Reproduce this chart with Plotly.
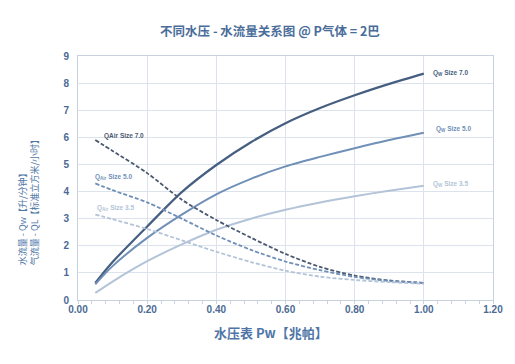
import plotly.graph_objects as go

pw = [0.05, 0.1, 0.2, 0.3, 0.4, 0.5, 0.6, 0.7, 0.8, 0.9, 1.0]

qw_70 = [0.63, 1.40, 2.71, 3.98, 4.98, 5.82, 6.52, 7.08, 7.55, 7.97, 8.35]
qw_50 = [0.58, 1.25, 2.29, 3.15, 3.90, 4.47, 4.93, 5.28, 5.60, 5.90, 6.17]
qw_35 = [0.26, 0.68, 1.43, 2.05, 2.59, 3.00, 3.33, 3.60, 3.83, 4.03, 4.21]

qa_70 = [5.90, 5.50, 4.68, 3.70, 2.95, 2.30, 1.70, 1.22, 0.90, 0.72, 0.63]
qa_50 = [4.30, 4.05, 3.60, 3.00, 2.38, 1.85, 1.42, 1.10, 0.85, 0.70, 0.63]
qa_35 = [3.15, 2.98, 2.62, 2.20, 1.78, 1.40, 1.08, 0.86, 0.74, 0.66, 0.60]

x_ticks = [0.0, 0.2, 0.4, 0.6, 0.8, 1.0, 1.2]
x_tick_labels = ["0.00", "0.20", "0.40", "0.60", "0.80", "1.00", "1.20"]
y_ticks = [0, 1, 2, 3, 4, 5, 6, 7, 8, 9]

c_dark = "#465f80"
c_mid = "#7090b8"
c_light = "#b3c3d8"
c_dash_dark = "#4b5a70"
c_axis_title = "#4f76a6"
c_tick = "#4c6a94"

fig = go.Figure()
for y, col, w in [(qw_70, c_dark, 2.2), (qw_50, c_mid, 2.0), (qw_35, c_light, 2.0)]:
    fig.add_trace(go.Scatter(x=pw, y=y, mode="lines",
                             line=dict(color=col, width=w, shape="spline", smoothing=0.8),
                             showlegend=False))
for y, col, w in [(qa_70, c_dash_dark, 1.8), (qa_50, c_mid, 1.8), (qa_35, c_light, 1.8)]:
    fig.add_trace(go.Scatter(x=pw, y=y, mode="lines",
                             line=dict(color=col, width=w, shape="spline", smoothing=0.8, dash="4px,2px"),
                             showlegend=False))

ann_font = "Liberation Sans, Arial, sans-serif"
labels = [
    (0.068, 6.05, "<b>QAir Size 7.0</b>", c_dash_dark),
    (0.043, 4.55, "<b>Q<sub>Air</sub> Size 5.0</b>", c_mid),
    (0.05, 3.39, "<b>Q<sub>Air</sub> Size 3.5</b>", c_light),
    (1.02, 8.39, "<b>Q<sub>W</sub> Size 7.0</b>", c_dark),
    (1.03, 6.30, "<b>Q<sub>W</sub> Size 5.0</b>", c_mid),
    (1.02, 4.28, "<b>Q<sub>W</sub> Size 3.5</b>", c_light),
]
for x, y, t, col in labels:
    fig.add_annotation(x=x, y=y, text=t, showarrow=False, xanchor="left", yanchor="middle",
                       font=dict(size=6.5, color=col, family=ann_font))

# axis titles as annotations (positioned like the reference)
fig.add_annotation(xref="paper", yref="paper", x=0.466, y=-0.133, xanchor="center", yanchor="middle",
                   text="<b>水压表 Pw【兆帕】</b>", showarrow=False,
                   font=dict(size=13, color=c_axis_title, family="Noto Sans CJK SC"))
fig.add_annotation(xref="paper", yref="paper", x=-0.119, y=0.133, xanchor="center", yanchor="bottom",
                   text="水流量 - Qw【升/分钟】<br>气流量 - QL【标准立方米/小时】", showarrow=False,
                   textangle=-90, align="left",
                   font=dict(size=9, color=c_axis_title, family="Noto Sans CJK SC"))

fig.update_layout(
    width=499, height=348,
    margin=dict(l=70, r=14, t=48, b=55.5),
    paper_bgcolor="white", plot_bgcolor="white",
    title=dict(text="<b>不同水压 - 水流量关系图 @ P气体 = 2巴</b>", x=0.525, xanchor="center",
               y=0.931, yanchor="middle",
               font=dict(size=12.5, color="#4a6d9a", family="Noto Sans CJK SC")),
    font=dict(family="Noto Sans CJK SC"),
)
fig.update_xaxes(
    range=[0, 1.2], tickvals=x_ticks, ticktext=["<b>%s</b>" % t for t in x_tick_labels],
    automargin=False,
    showgrid=True, gridcolor="#dde3ec", gridwidth=1,
    showline=True, linecolor="#c9d3e0", mirror=True,
    ticks="", tickfont=dict(size=10, color=c_tick, family="Liberation Sans, Arial"),
    minor=dict(dtick=0.04, ticks="outside", ticklen=3, tickcolor="#c9d3e0", showgrid=False),
    zeroline=False,
)
fig.update_yaxes(
    range=[0, 9], tickvals=y_ticks, ticktext=["<b>%d</b>" % v for v in y_ticks],
    automargin=False,
    showgrid=True, gridcolor="#dde3ec", gridwidth=1,
    showline=True, linecolor="#c9d3e0", mirror=True,
    ticks="", tickfont=dict(size=10, color=c_tick, family="Liberation Sans, Arial"),
    ticklabelstandoff=6,
    zeroline=False,
)

fig.write_html("out.html")
